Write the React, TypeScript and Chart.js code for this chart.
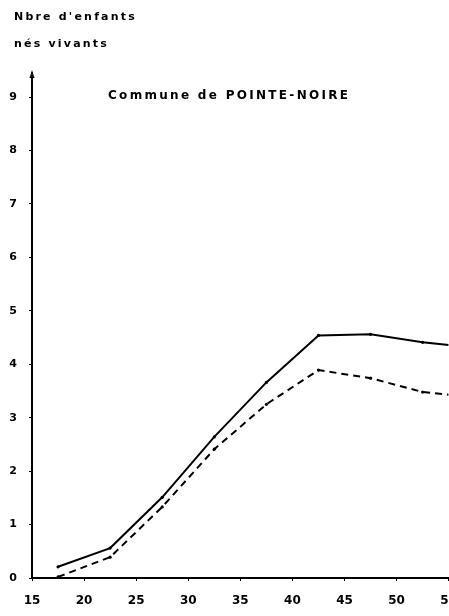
import React, { useEffect, useRef } from "react";
import { Chart, registerables } from "chart.js";

Chart.register(...registerables);

const ages = [17.5, 22.5, 27.5, 32.5, 37.5, 42.5, 47.5, 52.5, 55];
const solidSeries = [0.21, 0.56, 1.51, 2.64, 3.66, 4.54, 4.56, 4.41, 4.36];
const dashedSeries = [0.02, 0.39, 1.33, 2.41, 3.25, 3.89, 3.74, 3.48, 3.43];
const xTicks = [15, 20, 25, 30, 35, 40, 45, 50, 55];
const yTicks = [0, 1, 2, 3, 4, 5, 6, 7, 8, 9];
const yTitle1 = "Nbre d'enfants";
const yTitle2 = "nés vivants";
const chartTitle = "Commune de POINTE-NOIRE";

const FONT = "'DejaVu Sans', sans-serif";

const arrowPlugin = {
  id: "arrowPlugin",
  afterDraw(chart: any) {
    const { ctx, chartArea } = chart;
    const x = chartArea.left;
    const y = chartArea.top;
    ctx.save();
    ctx.fillStyle = "#000";
    ctx.beginPath();
    ctx.moveTo(x, y - 3);
    ctx.lineTo(x - 2.5, y + 5);
    ctx.lineTo(x + 2.5, y + 5);
    ctx.closePath();
    ctx.fill();
    ctx.restore();
  },
};

export default function App() {
  const ref = useRef<HTMLCanvasElement>(null);
  useEffect(() => {
    if (!ref.current) return;
    const pts = (arr: number[]) => arr.map((v, i) => ({ x: ages[i], y: v }));
    const radii = ages.map((a) => (a > 53 ? 0 : 1.6));
    const chart = new Chart(ref.current, {
      type: "line",
      data: {
        datasets: [
          {
            data: pts(solidSeries),
            borderColor: "#000",
            backgroundColor: "#000",
            borderWidth: 2,
            pointRadius: radii,
            pointBorderWidth: 0,
            tension: 0,
          },
          {
            data: pts(dashedSeries),
            borderColor: "#000",
            backgroundColor: "#000",
            borderWidth: 2,
            borderDash: [7, 5],
            pointRadius: radii,
            pointBorderWidth: 0,
            tension: 0,
          },
        ],
      },
      options: {
        responsive: false,
        animation: false,
        devicePixelRatio: 1,
        layout: { padding: { top: 73, right: 17, left: 0, bottom: 0 } },
        plugins: { legend: { display: false }, tooltip: { enabled: false } },
        scales: {
          x: {
            type: "linear",
            min: 15,
            max: 55,
            afterBuildTicks: (s: any) => {
              s.ticks = xTicks.map((v) => ({ value: v }));
            },
            afterFit: (s: any) => {
              s.height = 38;
            },
            grid: { drawOnChartArea: false, drawTicks: true, tickLength: 3, color: "#000" },
            border: { display: true, color: "#000", width: 2 },
            ticks: {
              color: "#000",
              padding: 13,
              maxRotation: 0,
              autoSkip: false,
              font: { family: FONT, size: 12, weight: "bold" },
              callback: (v: any) => String(v),
            },
          },
          y: {
            min: 0,
            max: 9.45,
            afterBuildTicks: (s: any) => {
              s.ticks = yTicks.map((v) => ({ value: v }));
            },
            afterFit: (s: any) => {
              s.width = 32;
            },
            grid: { drawOnChartArea: false, drawTicks: true, tickLength: 3, color: "#000" },
            border: { display: true, color: "#000", width: 2 },
            ticks: {
              color: "#000",
              padding: 12,
              autoSkip: false,
              font: { family: FONT, size: 11, weight: "bold" },
              callback: (v: any) => String(v),
            },
          },
        },
      },
      plugins: [arrowPlugin],
    });
    return () => chart.destroy();
  }, []);

  const textStyle: React.CSSProperties = {
    position: "absolute",
    fontFamily: FONT,
    fontWeight: "bold",
    fontSize: 11,
    letterSpacing: "2.2px",
    color: "#000",
    whiteSpace: "nowrap",
    lineHeight: "12px",
  };

  return (
    <div
      style={{
        position: "fixed",
        left: 0,
        top: 0,
        width: 449,
        height: 616,
        overflow: "hidden",
        background: "#fff",
      }}
    >
      <canvas ref={ref} width={470} height={616} style={{ position: "absolute", left: 0, top: 0 }} />
      <div style={{ ...textStyle, left: 14, top: 11 }}>{yTitle1}</div>
      <div style={{ ...textStyle, left: 14, top: 38 }}>{yTitle2}</div>
      <div style={{ ...textStyle, left: 108, top: 88, fontSize: 12, lineHeight: "14px", letterSpacing: "2.3px" }}>
        {chartTitle}
      </div>
    </div>
  );
}
